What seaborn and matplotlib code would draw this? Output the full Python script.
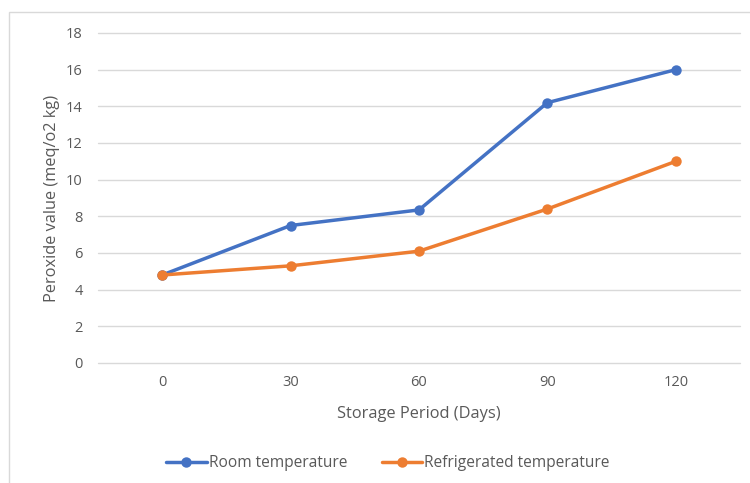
import matplotlib.pyplot as plt
import seaborn as sns
import pandas as pd
from matplotlib.patches import Rectangle
from matplotlib.lines import Line2D

sns.set_theme(style="white")
plt.rcParams['font.family'] = ['Open Sans', 'DejaVu Sans']

# data
days = [0, 30, 60, 90, 120]
room_temp = [4.8, 7.5, 8.35, 14.2, 16.0]
fridge_temp = [4.8, 5.3, 6.1, 8.4, 11.0]

df = pd.DataFrame({
    'day': days * 2,
    'value': room_temp + fridge_temp,
    'series': ['Room temperature'] * len(days) + ['Refrigerated temperature'] * len(days),
})

palette = {'Room temperature': '#4472C4', 'Refrigerated temperature': '#ED7D31'}
txt = '#595959'

fig = plt.figure(figsize=(7.5, 4.83), dpi=100)
ax = fig.add_axes([98 / 750, 1 - 363 / 483, 642 / 750, 330 / 483])

# chart frame (cropped at right / bottom)
fig.patches.append(Rectangle((9 / 750, -0.1), 1.2, 1 - 12 / 483 + 0.1,
                             transform=fig.transFigure, fill=False,
                             edgecolor='#d9d9d9', linewidth=1))

sns.lineplot(ax=ax, data=df, x='day', y='value', hue='series', palette=palette,
             marker='o', markersize=7.5, markeredgewidth=0, linewidth=2.5,
             estimator=None, legend=False, zorder=3)

ax.set_xlim(-15, 135)
ax.set_ylim(0, 18)
ax.set_yticks(range(0, 19, 2))
ax.set_xticks(days)
ax.grid(axis='y', color='#d9d9d9', linewidth=1)
ax.grid(axis='x', visible=False)
for gl in ax.get_ygridlines():
    gl.set_clip_on(False)
for s in ax.spines.values():
    s.set_visible(False)
ax.tick_params(axis='both', length=0, labelsize=10.5, labelcolor=txt)
ax.tick_params(axis='y', pad=11)
ax.tick_params(axis='x', pad=9)
ax.set_xlabel('Storage Period (Days)', fontsize=11.8, color=txt, labelpad=11)
ax.set_ylabel('Peroxide value (meq/o2 kg)', fontsize=11.8, color=txt, labelpad=4)

handles = [Line2D([0], [0], color=palette[k], lw=2.5, marker='o', markersize=7.5,
                  markeredgewidth=0) for k in palette]
fig.legend(handles=handles, labels=list(palette), loc='center',
           bbox_to_anchor=(388 / 750, 1 - 463 / 483), ncol=2, frameon=False,
           fontsize=11.2, labelcolor=txt, handlelength=2.6, handletextpad=0.15,
           columnspacing=2.2)

fig.savefig('out.png', dpi=100)
